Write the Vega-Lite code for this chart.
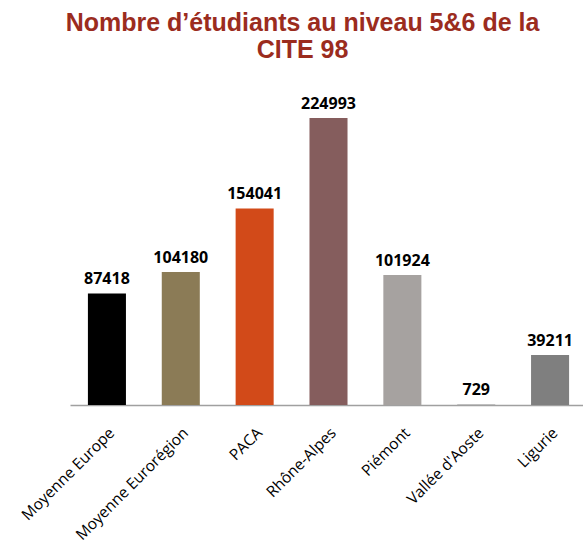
{
  "$schema": "https://vega.github.io/schema/vega-lite/v6.json",
  "autosize": "none",
  "width": 517,
  "height": 319,
  "padding": {"left": 70, "top": 86, "right": 0, "bottom": 144},
  "background": "white",
  "title": {
    "text": ["Nombre d’étudiants au niveau 5&6 de la", "CITE 98"],
    "font": "Liberation Sans",
    "fontSize": 25,
    "fontWeight": "bold",
    "color": "#9B2C1E",
    "lineHeight": 27,
    "anchor": "middle",
    "dx": -26,
    "offset": 23
  },
  "data": {
    "values": [
      {"region": "Moyenne Europe", "value": 87418, "color": "#000000"},
      {"region": "Moyenne Eurorégion", "value": 104180, "color": "#8B7B56"},
      {"region": "PACA", "value": 154041, "color": "#D24A19"},
      {"region": "Rhône-Alpes", "value": 224993, "color": "#855D5D"},
      {"region": "Piémont", "value": 101924, "color": "#A6A2A0"},
      {"region": "Vallée d'Aoste", "value": 729, "color": "#BFBFBF"},
      {"region": "Ligurie", "value": 39211, "color": "#7F7F7F"}
    ]
  },
  "encoding": {
    "x": {
      "field": "region",
      "type": "nominal",
      "sort": null,
      "scale": {"paddingInner": 0.485, "paddingOuter": 0.2425},
      "axis": {
        "title": null,
        "labelAngle": -45,
        "labelFont": "Open Sans",
        "labelFontSize": 15.5,
        "labelColor": "#000000",
        "labelPadding": 20,
        "ticks": false,
        "domainColor": "#A0A0A0",
        "domainWidth": 1.5
      }
    },
    "y": {
      "field": "value",
      "type": "quantitative",
      "scale": {"domain": [0, 250000]},
      "axis": null
    }
  },
  "layer": [
    {
      "mark": {"type": "bar"},
      "encoding": {
        "color": {"field": "color", "type": "nominal", "scale": null}
      }
    },
    {
      "mark": {"type": "text", "dy": -9, "baseline": "alphabetic", "font": "Open Sans", "fontSize": 16, "fontWeight": "bold", "color": "#000000"},
      "encoding": {
        "text": {"field": "value", "type": "quantitative", "format": "d"}
      }
    }
  ],
  "config": {"view": {"stroke": null}}
}
